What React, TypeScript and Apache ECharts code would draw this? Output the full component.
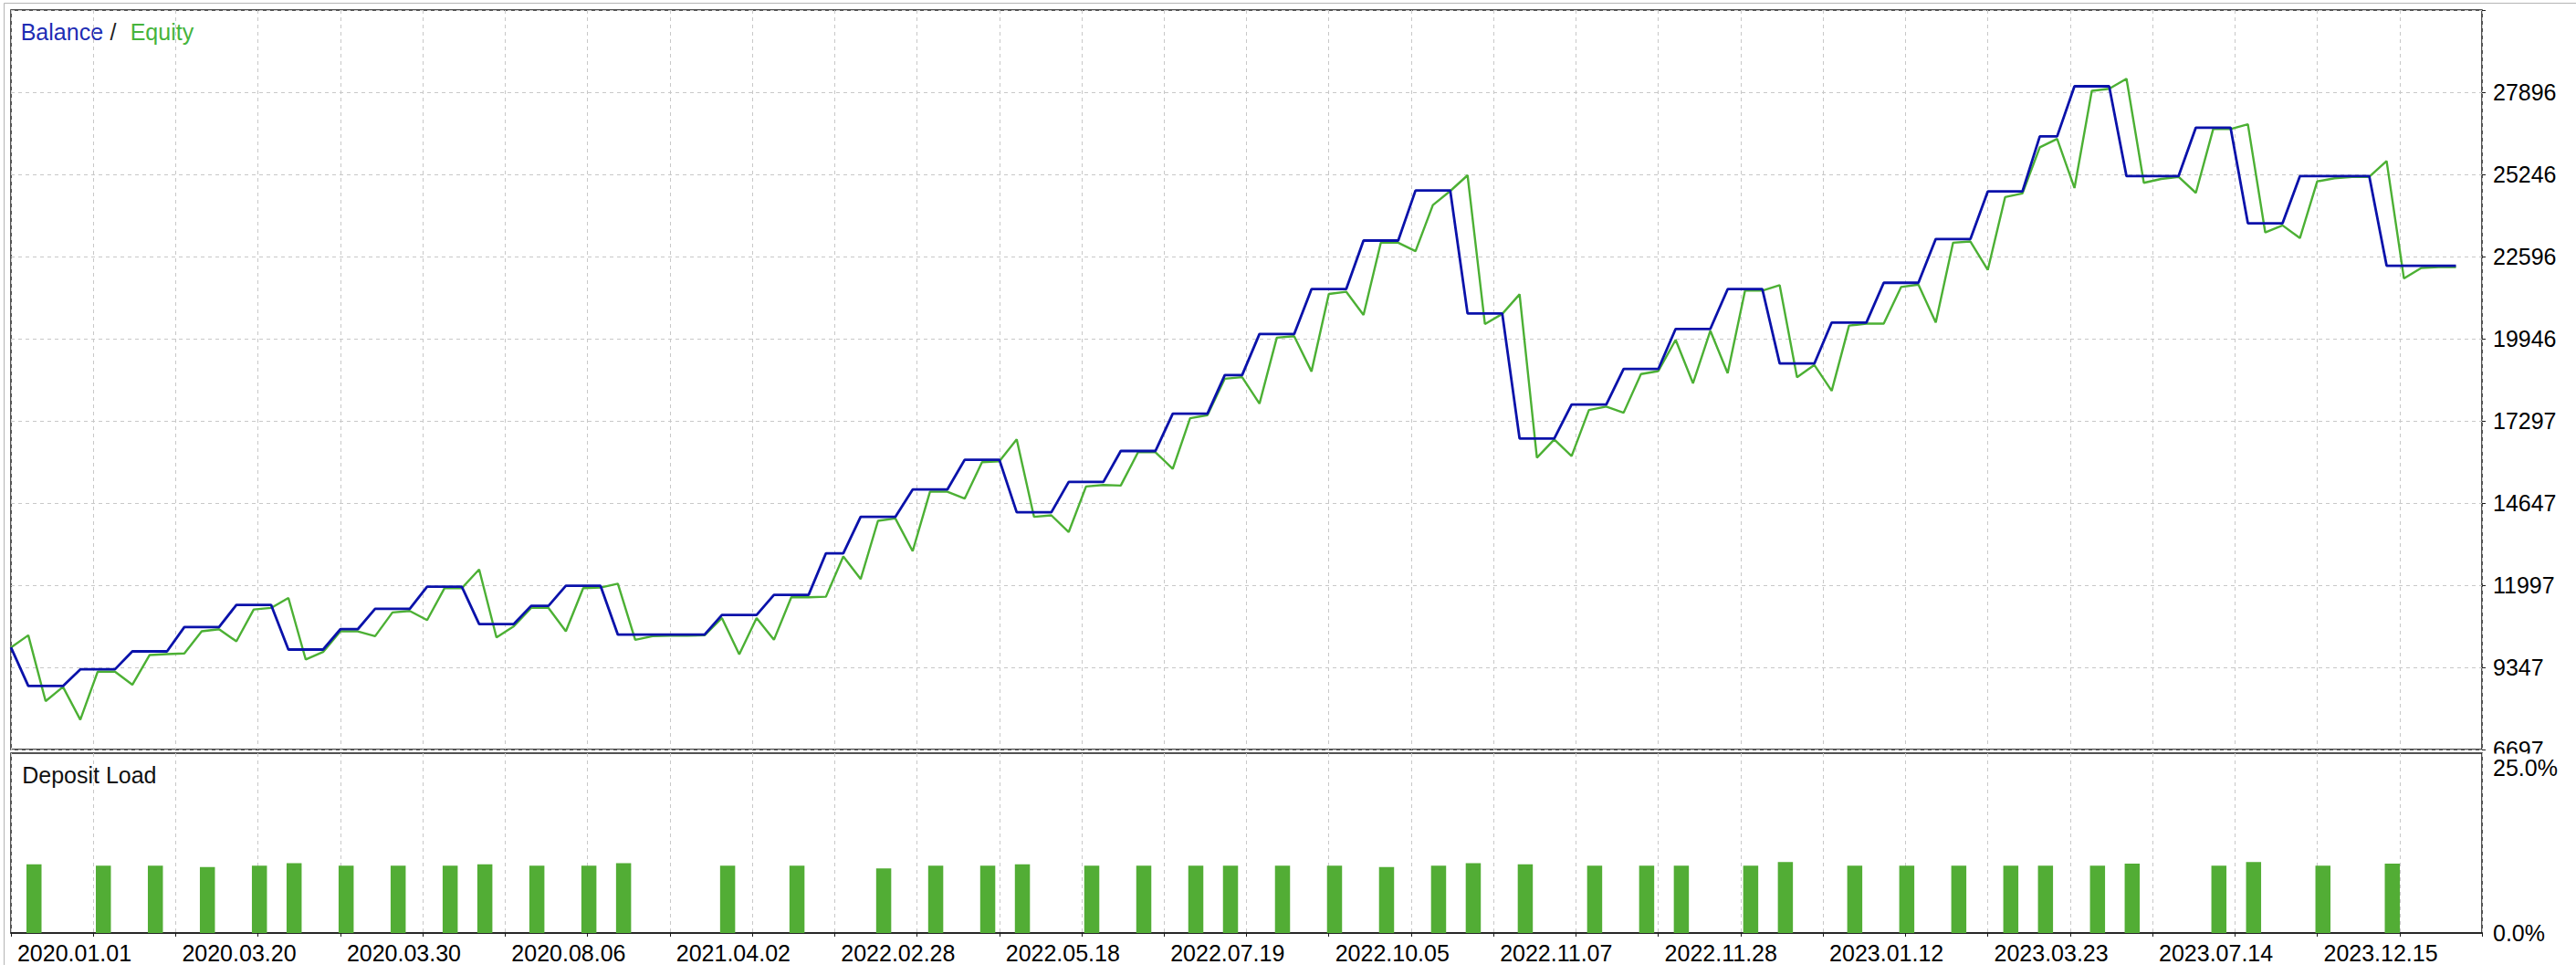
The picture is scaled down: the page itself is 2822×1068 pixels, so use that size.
import React, { useEffect, useRef } from "react";
import * as echarts from "echarts";

const FONT = '"Liberation Sans", Arial, sans-serif';

// Balance per deal index (0..141)
const balance: number[] = [
  9990, 8746, 8746, 8746, 9284, 9284, 9284, 9862, 9862, 9862,
  10646, 10646, 10646, 11361, 11361, 11361, 9921, 9921, 9921, 10577,
  10577, 11233, 11233, 11233, 11948, 11948, 11948, 10744, 10744, 10744,
  11331, 11331, 11977, 11977, 11977, 10401, 10401, 10401, 10401, 10401,
  10401, 11037, 11037, 11037, 11684, 11684, 11684, 13025, 13025, 14200,
  14200, 14200, 15082, 15082, 15082, 16042, 16042, 16042, 14347, 14347,
  14347, 15327, 15327, 15327, 16325, 16325, 16325, 17530, 17530, 17530,
  18773, 18773, 20096, 20096, 20096, 21545, 21545, 21545, 23111, 23111,
  23111, 24727, 24727, 24727, 20761, 20761, 20761, 16727, 16727, 16727,
  17823, 17823, 17823, 18969, 18969, 18969, 20262, 20262, 20262, 21545,
  21545, 21545, 19146, 19146, 19146, 20467, 20467, 20467, 21750, 21750,
  21750, 23161, 23161, 23161, 24697, 24697, 24697, 26471, 26471, 28087,
  28087, 28087, 25188, 25188, 25188, 25188, 26754, 26754, 26754, 23669,
  23669, 23669, 25188, 25188, 25188, 25188, 25188, 22300, 22300, 22300,
  22300, 22300,
];

// Equity per deal index (0..141)
const equity: number[] = [
  9990, 10381, 8256, 8717, 7659, 9206, 9206, 8785, 9745, 9774,
  9794, 10508, 10577, 10185, 11214, 11263, 11586, 9598, 9843, 10508,
  10508, 10352, 11116, 11165, 10871, 11899, 11899, 12506, 10313, 10675,
  11263, 11263, 10508, 11899, 11919, 12046, 10234, 10352, 10371, 10371,
  10381, 10939, 9764, 10939, 10234, 11605, 11605, 11625, 12927, 12193,
  14073, 14151, 13094, 15013, 15013, 14788, 15963, 15992, 16697, 14200,
  14249, 13711, 15180, 15229, 15209, 16286, 16286, 15748, 17383, 17481,
  18656, 18705, 17853, 19978, 20027, 18890, 21390, 21460, 20713, 23043,
  23043, 22770, 24257, 24709, 25217, 20420, 20745, 21378, 16110, 16697,
  16160, 17646, 17755, 17558, 18804, 18901, 19909, 18510, 20202, 18833,
  21495, 21495, 21671, 18704, 19098, 18263, 20370, 20430, 20430, 21612,
  21690, 20467, 23043, 23081, 22162, 24512, 24630, 26119, 26392, 24806,
  27940, 28008, 28331, 24973, 25100, 25167, 24650, 26707, 26707, 26862,
  23375, 23601, 23190, 25020, 25120, 25167, 25167, 25678, 21888, 22229,
  22259, 22259,
];

// Deposit load bars: deal index and load in %
const depositIdx: number[] = [
  1, 5, 8, 11, 14, 16, 19, 22, 25, 27, 30, 33, 35, 41, 45, 50,
  53, 56, 58, 62, 65, 68, 70, 73, 76, 79, 82, 84, 87, 91, 94, 96,
  100, 102, 106, 109, 112, 115, 117, 120, 122, 127, 129, 133, 137,
];
const depositLoad: number[] = [
  9.54, 9.37, 9.37, 9.16, 9.37, 9.71, 9.37, 9.37, 9.37, 9.54, 9.37, 9.37, 9.71, 9.37, 9.37, 8.99,
  9.37, 9.37, 9.54, 9.37, 9.37, 9.37, 9.37, 9.37, 9.37, 9.16, 9.37, 9.71, 9.54, 9.37, 9.37, 9.37,
  9.37, 9.87, 9.37, 9.37, 9.37, 9.37, 9.37, 9.37, 9.66, 9.37, 9.87, 9.37, 9.66,
];

// Date labels along the bottom axis (one every 9.5 deals)
const dateLabels: string[] = [
  "2020.01.01", "2020.03.20", "2020.03.30", "2020.08.06", "2021.04.02",
  "2022.02.28", "2022.05.18", "2022.07.19", "2022.10.05", "2022.11.07",
  "2022.11.28", "2023.01.12", "2023.03.23", "2023.07.14", "2023.12.15",
];
const DATE_STEP = 9.5;
const X_MAX = 142.5;

// Right axis tick labels of the balance/equity panel
const yTickLabels: string[] = [
  "6697", "9347", "11997", "14647", "17297", "19946", "22596", "25246", "27896",
];
const Y_MIN = 6697;
const Y_STEP = 2649.875;
const Y_MAX = Y_MIN + 9 * Y_STEP;

const pctLabels: string[] = ["0.0%", "25.0%"];

const GRID_COLOR = "#c8c8c8";
const FRAME = "#1a1a1a";

export default function App() {
  const ref = useRef<HTMLDivElement>(null);

  useEffect(() => {
    if (!ref.current) return;
    const chart = echarts.init(ref.current, undefined, { renderer: "svg" });

    const dashed = { show: true, lineStyle: { color: GRID_COLOR, width: 1, type: [4, 4] } };

    const option: any = {
      animation: false,
      backgroundColor: "#ffffff",
      textStyle: { fontFamily: FONT },
      grid: [
        { left: 12, top: 11, width: 2707, height: 810, show: true, borderColor: FRAME, borderWidth: 1.5, outerBoundsMode: "none", containLabel: false },
        { left: 12, top: 825, width: 2707, height: 197, show: true, borderColor: FRAME, borderWidth: 1.5, outerBoundsMode: "none", containLabel: false },
      ],
      xAxis: [
        {
          gridIndex: 0, type: "value", min: 0, max: X_MAX, interval: 4.75,
          axisLine: { show: false }, axisTick: { show: false }, axisLabel: { show: false },
          splitLine: dashed,
        },
        {
          gridIndex: 1, type: "value", min: 0, max: X_MAX, interval: 4.75,
          axisLine: { show: true, onZero: false, lineStyle: { color: FRAME, width: 1.5 } },
          axisTick: { show: true, length: 4, lineStyle: { color: FRAME, width: 1 } },
          axisLabel: {
            show: true, align: "left", margin: 9, fontSize: 25, color: "#000", fontFamily: FONT,
            showMaxLabel: true, showMinLabel: true,
            formatter: (v: number) => {
              const k = Math.round(v / DATE_STEP);
              if (Math.abs(v / DATE_STEP - k) < 1e-6 && k >= 0 && k < dateLabels.length) return " " + dateLabels[k];
              return "";
            },
          },
          splitLine: dashed,
        },
      ],
      yAxis: [
        { gridIndex: 0, type: "value", min: Y_MIN, max: Y_MAX, show: false },
        {
          gridIndex: 0, type: "value", position: "right", min: 0, max: 9, interval: 1,
          axisLine: { show: false },
          axisTick: { show: true, length: 4, lineStyle: { color: FRAME, width: 1 } },
          axisLabel: {
            show: true, margin: 12, fontSize: 25, color: "#000", fontFamily: FONT,
            formatter: (v: number) => yTickLabels[Math.round(v)] ?? "",
          },
          splitLine: dashed,
        },
        {
          gridIndex: 1, type: "value", position: "right", min: 0, max: 25, interval: 25,
          axisLine: { show: false }, axisTick: { show: false }, splitLine: { show: false },
          axisLabel: {
            show: true, margin: 12, fontSize: 25, color: "#000", fontFamily: FONT,
            formatter: (v: number) => (v >= 25 ? "{t|" + pctLabels[1] + "}" : v <= 0 ? "{b|" + pctLabels[0] + "}" : ""),
            rich: {
              t: { fontSize: 25, fontFamily: FONT, color: "#000", padding: [32, 0, 0, 0] },
              b: { fontSize: 25, fontFamily: FONT, color: "#000" },
            },
          },
        },
      ],
      series: [
        {
          name: "Equity", type: "line", xAxisIndex: 0, yAxisIndex: 0,
          data: equity.map((v, i) => [i, v]),
          symbol: "none", lineStyle: { color: "#4cb034", width: 2.4 }, itemStyle: { color: "#4cb034" },
          z: 3,
        },
        {
          name: "Balance", type: "line", xAxisIndex: 0, yAxisIndex: 0,
          data: balance.map((v, i) => [i, v]),
          symbol: "none", lineStyle: { color: "#0a12aa", width: 2.8 }, itemStyle: { color: "#0a12aa" },
          z: 4,
        },
        {
          name: "spacer", type: "bar", xAxisIndex: 1, yAxisIndex: 2,
          data: [], barWidth: 12.5, barGap: "0%",
        },
        {
          name: "Deposit Load", type: "bar", xAxisIndex: 1, yAxisIndex: 2,
          data: depositIdx.map((idx, k) => [idx, depositLoad[k]]),
          barWidth: 16.5, barGap: "0%",
          itemStyle: { color: "#52ad35" },
        },
      ],
      graphic: [
        { type: "line", silent: true, shape: { x1: 4.5, y1: 3.5, x2: 2822, y2: 3.5 }, style: { stroke: "#b4b4b4", lineWidth: 1 } },
        { type: "line", silent: true, shape: { x1: 4.5, y1: 3.5, x2: 4.5, y2: 1057 }, style: { stroke: "#b4b4b4", lineWidth: 1 } },
        { type: "text", silent: true, x: 22.7, y: 35, style: { text: "Balance", fill: "#1e2db4", fontSize: 25, fontFamily: FONT, verticalAlign: "middle", align: "left" } },
        { type: "text", silent: true, x: 120.5, y: 35, style: { text: "/", fill: "#222222", fontSize: 25, fontFamily: FONT, verticalAlign: "middle", align: "left" } },
        { type: "text", silent: true, x: 142.7, y: 35, style: { text: "Equity", fill: "#46b43c", fontSize: 25, fontFamily: FONT, verticalAlign: "middle", align: "left" } },
        { type: "text", silent: true, x: 24.2, y: 848.5, style: { text: "Deposit Load", fill: "#111111", fontSize: 25, fontFamily: FONT, verticalAlign: "middle", align: "left" } },
        { type: "rect", silent: true, z: 100, shape: { x: 2722, y: 825.5, width: 100, height: 5 }, style: { fill: "#ffffff" } },
      ],
    };

    chart.setOption(option);
    return () => chart.dispose();
  }, []);

  return (
    <div
      ref={ref}
      style={{ position: "fixed", left: 0, top: 0, width: "2822px", height: "1068px", background: "#fff" }}
    />
  );
}
